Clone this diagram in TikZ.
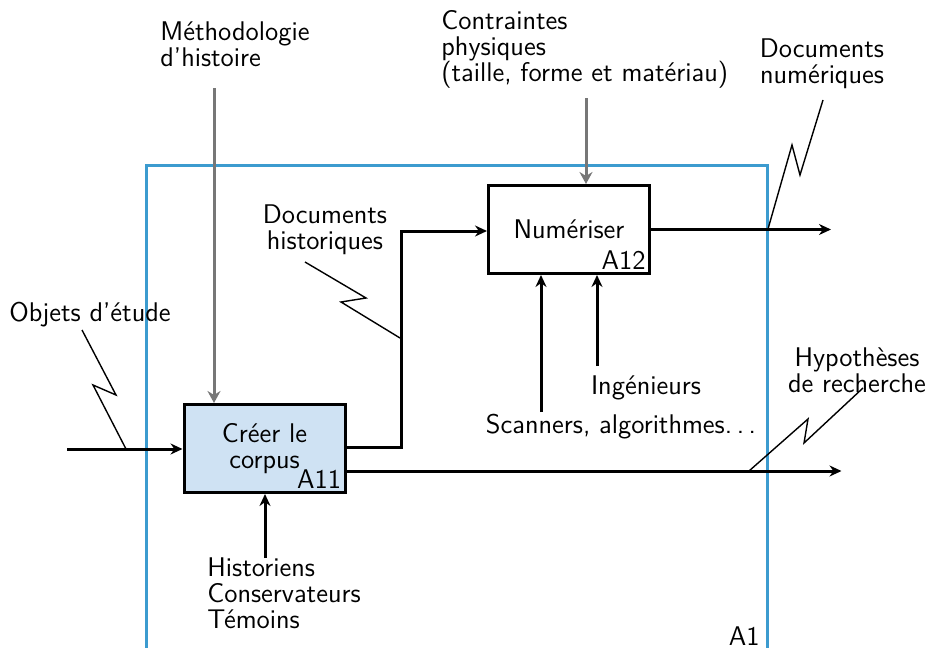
\documentclass[tikz,border=0pt]{standalone}
\usepackage{tikz}
\usetikzlibrary{arrows.meta,positioning,calc}
\definecolor{frameblue}{HTML}{3C9BCF}
\definecolor{boxfill}{HTML}{CFE2F3}
\definecolor{ctrlgray}{HTML}{777777}

\begin{document}
\begin{tikzpicture}[
        x=0.5pt, y=-0.5pt,
        font=\sffamily\fontsize{13.5}{13}\selectfont,
        activity/.style={rectangle, draw=black, line width=1.5pt, minimum width=80.5pt,
                         minimum height=44pt, align=center, inner sep=0pt},
        code/.style={anchor=south east, inner sep=2.5pt},
        flow/.style={-{Stealth[length=6pt, width=5.5pt]}, line width=1.5pt},
        ctrl/.style={-{Stealth[length=6pt, width=6.5pt, inset=2pt]}, line width=1.5pt, ctrlgray},
        squig/.style={line width=0.7pt},
        lbl/.style={align=center, inner sep=0pt},
        lbll/.style={align=left, inner sep=0pt, anchor=north west}
    ]
        \useasboundingbox (0,0) rectangle (928,648);

        % context frame A1
        \draw[frameblue, line width=1.5pt] (146,648) -- (146,165) -- (767,165) -- (767,648);
        \node[anchor=base east, inner sep=0pt] (a1) at (760,645) {A1};

        % activities
        \node[activity, fill=boxfill] (a11) at (264.5,448.5) {Créer le\\corpus};
        \node[code] (a11c) at (a11.south east) {A11};
        \node[activity] (a12) at (569,229.5) {Numériser};
        \node[code] (a12c) at (a12.south east) {A12};

        % labels
        \node[lbl] (objets) at (90,315) {Objets d'étude};
        \node[lbll] (methodo) at (160,21) {Méthodologie\\d'histoire};
        \node[lbll] (contr) at (441,10) {Contraintes\\physiques\\(taille, forme et matériau)};
        \node[lbl] (docnum) at (822,64) {Documents\\numériques};
        \node[lbl] (dochist) at (325,230) {Documents\\historiques};
        \node[lbl] (hypo) at (857,370) {Hypothèses\\de recherche};
        \node[lbl] (ing) at (646,388) {Ingénieurs};
        \node[lbl] (scan) at (621,427) {Scanners, algorithmes.\kern.17em.\kern.17em.};
        \node[lbll] (hist) at (207,557) {Historiens\\Conservateurs\\Témoins};

        % free ends
        \coordinate (in1) at (67,449);
        \coordinate (meth) at (214,88);
        \coordinate (phys) at (586,98);
        \coordinate (mscan) at (541,412);
        \coordinate (ming) at (597,366);
        \coordinate (mhist) at (265,558);

        % inputs and controls
        \draw[flow] (in1) -- (a11.west |- in1);
        \draw[ctrl] (meth) -- (meth |- a11.north);
        \draw[ctrl] (phys) -- (phys |- a12.north);

        % outputs
        \draw[flow] ($(a11.east)+(0,-1.5)$) -- ++(55,0) |- ($(a12.west)+(0,1.5)$);
        \draw[flow] ($(a11.east)+(0,22.5)$) -- ++(495,0);
        \draw[flow] (a12.east) -- ++(180,0);

        % mechanisms
        \draw[flow] (mscan) -- (mscan |- a12.south);
        \draw[flow] (ming) -- (ming |- a12.south);
        \draw[flow] (mhist) -- (mhist |- a11.south);

        % squiggles
        \draw[squig] (82,330) -- (116,395) -- (93,385) -- (126,449);
        \draw[squig] (305,262) -- (366,298) -- (341,302) -- (400,338);
        \draw[squig] (863,388) -- (804,443) -- (808,419) -- (749,471);
        \draw[squig] (823,100) -- (800,175) -- (792,145) -- (768,229);
    \end{tikzpicture}
\end{document}
